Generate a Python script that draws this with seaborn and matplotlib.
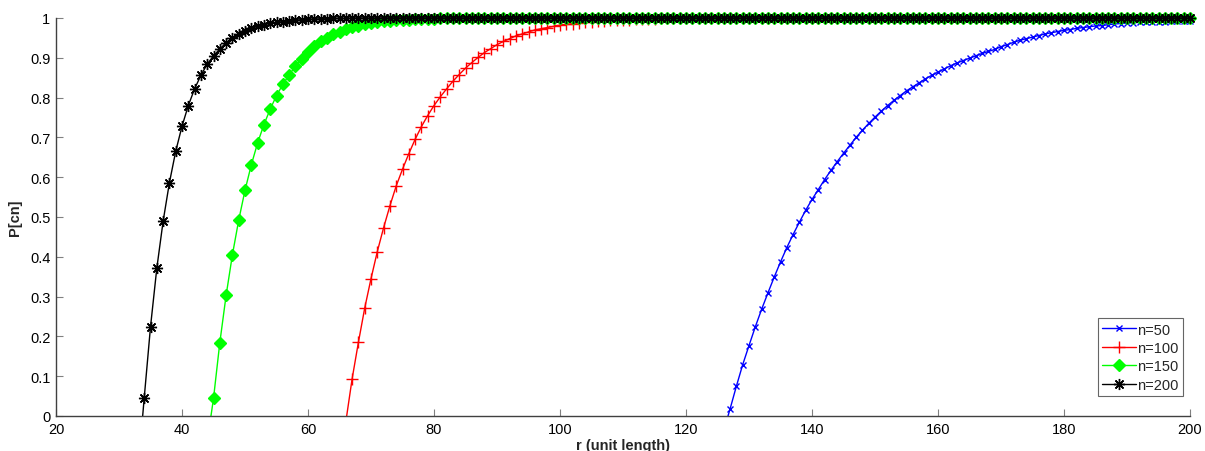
import numpy as np
import pandas as pd
import matplotlib
matplotlib.use("Agg")
import matplotlib.pyplot as plt
from matplotlib.transforms import Bbox, TransformedBbox
import seaborn as sns

# ---------------- data ----------------
r_n50 = list(range(126, 201))
p_n50 = [-0.036, 0.018, 0.075, 0.129, 0.177, 0.224, 0.268, 0.309, 0.349, 0.387,
         0.423, 0.456, 0.487, 0.517, 0.544, 0.569, 0.594, 0.617, 0.639, 0.660,
         0.680, 0.700, 0.718, 0.735, 0.751, 0.766, 0.780, 0.793, 0.805, 0.817,
         0.827, 0.837, 0.847, 0.856, 0.864, 0.872, 0.880, 0.887, 0.893, 0.899,
         0.905, 0.911, 0.916, 0.921, 0.928, 0.933, 0.939, 0.944, 0.948, 0.952,
         0.956, 0.960, 0.963, 0.966, 0.969, 0.971, 0.974, 0.976, 0.978, 0.980,
         0.981, 0.983, 0.985, 0.986, 0.987, 0.988, 0.989, 0.990, 0.990, 0.991,
         0.991, 0.992, 0.992, 0.993, 0.993]

r_n100 = list(range(66, 201))
p_n100 = [-0.015, 0.093, 0.185, 0.271, 0.345, 0.413, 0.473, 0.528, 0.578, 0.620,
          0.659, 0.695, 0.727, 0.755, 0.780, 0.802, 0.822, 0.841, 0.858, 0.874,
          0.888, 0.901, 0.913, 0.923, 0.933, 0.941, 0.948, 0.955, 0.960, 0.965,
          0.970, 0.973, 0.976, 0.979, 0.982, 0.984, 0.986, 0.988, 0.989, 0.990,
          0.992, 0.993, 0.994, 0.995, 0.996, 0.996, 0.997, 0.997, 0.998, 0.998,
          0.999, 0.999, 0.999, 0.999,
          1, 1, 1, 1, 1, 1, 1, 1, 1, 1,
          1, 1, 1, 1, 1, 1, 1, 1, 1, 1,
          1, 1, 1, 1, 1, 1, 1, 1, 1, 1,
          1, 1, 1, 1, 1, 1, 1, 1, 1, 1,
          1, 1, 1, 1, 1, 1, 1, 1, 1, 1,
          1, 1, 1, 1, 1, 1, 1, 1, 1, 1,
          1, 1, 1, 1, 1, 1, 1, 1, 1, 1,
          1, 1, 1, 1, 1, 1, 1, 1, 1, 1,
          1]

r_n150 = list(range(44, 201))
p_n150 = [-0.065, 0.044, 0.184, 0.303, 0.405, 0.492, 0.567, 0.631, 0.686, 0.732,
          0.771, 0.805, 0.833, 0.857, 0.879, 0.897, 0.914, 0.929, 0.941, 0.950,
          0.959, 0.966, 0.972, 0.977, 0.981, 0.985, 0.988, 0.990, 0.992, 0.993,
          0.994, 0.995, 0.996, 0.997, 0.997, 0.998, 0.998, 0.999, 0.999, 0.999,
          0.999,
          1, 1, 1, 1, 1, 1, 1, 1, 1, 1,
          1, 1, 1, 1, 1, 1, 1, 1, 1, 1,
          1, 1, 1, 1, 1, 1, 1, 1, 1, 1,
          1, 1, 1, 1, 1, 1, 1, 1, 1, 1,
          1, 1, 1, 1, 1, 1, 1, 1, 1, 1,
          1, 1, 1, 1, 1, 1, 1, 1, 1, 1,
          1, 1, 1, 1, 1, 1, 1, 1, 1, 1,
          1, 1, 1, 1, 1, 1, 1, 1, 1, 1,
          1, 1, 1, 1, 1, 1, 1, 1, 1, 1,
          1, 1, 1, 1, 1, 1, 1, 1, 1, 1,
          1, 1, 1, 1, 1, 1, 1, 1, 1, 1,
          1, 1, 1, 1, 1, 1]

r_n200 = list(range(33, 201))
p_n200 = [-0.140, 0.045, 0.224, 0.371, 0.489, 0.586, 0.665, 0.728, 0.780, 0.822,
          0.856, 0.884, 0.905, 0.922, 0.938, 0.950, 0.960, 0.968, 0.974, 0.979,
          0.983, 0.987, 0.989, 0.991, 0.993, 0.994, 0.996, 0.997, 0.997, 0.998,
          0.998, 0.999, 0.999, 0.999,
          1, 1, 1, 1, 1, 1, 1, 1, 1, 1,
          1, 1, 1, 1, 1, 1, 1, 1, 1, 1,
          1, 1, 1, 1, 1, 1, 1, 1, 1, 1,
          1, 1, 1, 1, 1, 1, 1, 1, 1, 1,
          1, 1, 1, 1, 1, 1, 1, 1, 1, 1,
          1, 1, 1, 1, 1, 1, 1, 1, 1, 1,
          1, 1, 1, 1, 1, 1, 1, 1, 1, 1,
          1, 1, 1, 1, 1, 1, 1, 1, 1, 1,
          1, 1, 1, 1, 1, 1, 1, 1, 1, 1,
          1, 1, 1, 1, 1, 1, 1, 1, 1, 1,
          1, 1, 1, 1, 1, 1, 1, 1, 1, 1,
          1, 1, 1, 1, 1, 1, 1, 1, 1, 1,
          1, 1, 1, 1, 1, 1, 1, 1, 1, 1,
          1, 1, 1, 1]

series_labels = ["n=50", "n=100", "n=150", "n=200"]
x_ticks = [20, 40, 60, 80, 100, 120, 140, 160, 180, 200]
y_ticks = [0, 0.1, 0.2, 0.3, 0.4, 0.5, 0.6, 0.7, 0.8, 0.9, 1]
y_tick_labels = ["0", "0.1", "0.2", "0.3", "0.4", "0.5", "0.6", "0.7", "0.8", "0.9", "1"]
x_label = "r (unit length)"
y_label = "P[cn]"

# ---------------- plot ----------------
sns.set_style("ticks")
plt.rcParams["font.family"] = ["Liberation Sans", "DejaVu Sans"]

fig = plt.figure(figsize=(12.05, 4.52), dpi=100)
ax = fig.add_axes([56 / 1205, 35 / 452, (1190 - 56) / 1205, (417 - 19) / 452])

styles = [
    dict(color="#0000ff", marker="x", markersize=5, mfc="#0000ff"),
    dict(color="#ff0000", marker="+", markersize=8, mfc="#ff0000"),
    dict(color="#00ff00", marker="D", markersize=6, mfc="#00ff00"),
    dict(color="#000000", marker=(8, 2, 0), markersize=8, mfc="#000000"),
]
data = [(r_n50, p_n50), (r_n100, p_n100), (r_n150, p_n150), (r_n200, p_n200)]

for (rv, pv), lab, st in zip(data, series_labels, styles):
    df = pd.DataFrame({"r": rv, "P": pv})
    sns.lineplot(data=df, x="r", y="P", ax=ax, color=st["color"], marker=st["marker"],
                 markersize=st["markersize"], markerfacecolor=st["mfc"],
                 markeredgecolor=st["color"], markeredgewidth=1.0,
                 linewidth=1.0, label=lab)

# clip at the bottom/left of the axes only, so markers on the 1.0 line and at
# r=200 are drawn whole (like the reference)
clip = TransformedBbox(Bbox.from_extents(0.0, 0.0, 1.02, 1.05), ax.transAxes)
for ln in ax.lines:
    ln.set_clip_path(None)
    ln.set_clip_box(clip)
    ln.set_clip_on(True)

ax.set_xlim(20, 200)
ax.set_ylim(0, 1)
ax.set_xticks(x_ticks)
ax.set_xticklabels([str(t) for t in x_ticks])
ax.set_yticks(y_ticks)
ax.set_yticklabels(y_tick_labels)
ax.tick_params(direction="in", length=5, width=0.8, color="#808080",
               labelsize=10.5, labelcolor="black", pad=4)
for side in ["top", "right"]:
    ax.spines[side].set_visible(False)
for side in ["left", "bottom"]:
    ax.spines[side].set_color("#404040")
    ax.spines[side].set_linewidth(1.0)

ax.set_xlabel(x_label, fontsize=10.5, fontweight="bold", labelpad=2)
ax.set_ylabel(y_label, fontsize=10.5, fontweight="bold", labelpad=6)

leg = ax.legend(loc="lower right", bbox_to_anchor=(0.994, 0.05), fontsize=10.5,
                frameon=True, fancybox=False, edgecolor="#404040",
                handlelength=2.3, handletextpad=0.1, borderpad=0.3,
                labelspacing=0.3, borderaxespad=0.0)
leg.get_frame().set_linewidth(0.8)

fig.savefig("out.png", dpi=100)
